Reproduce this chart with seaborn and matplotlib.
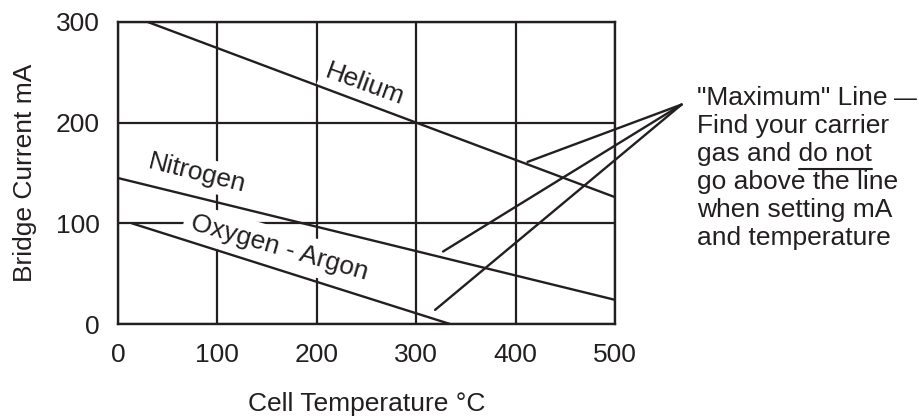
import numpy as np
import pandas as pd
import matplotlib
matplotlib.use("Agg")
import matplotlib.pyplot as plt
from matplotlib.lines import Line2D
import seaborn as sns

# -------------------------------
# Data (line end points)
# -------------------------------
helium_x = [30, 500]
helium_y = [300, 126]
nitrogen_x = [0, 500]
nitrogen_y = [145, 24]
oxygen_x = [14, 334]
oxygen_y = [100, 0]

# pointer lines: shared apex and the three tips
apex_x, apex_y = 567, 218
tip_x = [412, 327, 319]
tip_y = [161, 72, 14]

x_ticks = [0, 100, 200, 300, 400, 500]
y_ticks = [0, 100, 200, 300]

note_lines = ['"Maximum" Line', 'Find your carrier', 'gas and do not',
              'go above the line', 'when setting mA', 'and temperature']

ink = "#231f20"
fs = 19

sns.set_style("white")
plt.rcParams['font.family'] = ['Liberation Sans', 'DejaVu Sans']
plt.rcParams['text.color'] = ink

W, H = 919, 416
fig = plt.figure(figsize=(W / 100, H / 100), dpi=100)
ax = fig.add_axes([118 / W, 1 - 324 / H, (615 - 118) / W, (324 - 22) / H])

# gas lines
gases = pd.DataFrame({
    "x": helium_x + nitrogen_x + oxygen_x,
    "y": helium_y + nitrogen_y + oxygen_y,
    "gas": ["Helium"] * 2 + ["Nitrogen"] * 2 + ["Oxygen - Argon"] * 2,
})
for g, sub in gases.groupby("gas"):
    sns.lineplot(data=sub, x="x", y="y", ax=ax, color=ink, lw=1.7, zorder=4)

# pointer lines from the note
for tx, ty in zip(tip_x, tip_y):
    ax.plot([apex_x, tx], [apex_y, ty], color=ink, lw=1.7, clip_on=False, zorder=4)

ax.set_xlim(0, 500)
ax.set_ylim(0, 300)
ax.set_xticks(x_ticks)
ax.set_yticks(y_ticks)
ax.set_xticklabels([str(v) for v in x_ticks], fontsize=fs)
ax.set_yticklabels([str(v) for v in y_ticks], fontsize=fs)
ax.tick_params(axis="both", direction="out", length=3.6, width=1.5, color=ink, labelcolor=ink)
ax.tick_params(axis="x", pad=10)
ax.tick_params(axis="y", pad=9.4)
for t in [ax.xaxis.get_major_ticks()[0], ax.xaxis.get_major_ticks()[-1],
          ax.yaxis.get_major_ticks()[0], ax.yaxis.get_major_ticks()[-1]]:
    t.tick1line.set_visible(False)

ax.grid(True, color=ink, lw=1.6, zorder=1)
ax.set_axisbelow(True)
for s in ax.spines.values():
    s.set_color(ink)
    s.set_linewidth(1.7)
    s.set_zorder(5)

ax.set_xlabel("Cell Temperature \u00b0C", fontsize=fs, color=ink)
ax.set_ylabel("Bridge Current mA", fontsize=fs, color=ink)
ax.xaxis.set_label_coords(0.5, -0.225)
ax.yaxis.set_label_coords(-0.162, 0.5)

# labels on the lines
box = dict(facecolor="white", edgecolor="none", pad=3)
ax.text(248, 238, "Helium", fontsize=fs, rotation=-20, ha="center", va="center",
        rotation_mode="anchor", bbox=box, zorder=3)
ax.text(80, 150, "Nitrogen", fontsize=fs, rotation=-14, ha="center", va="center",
        rotation_mode="anchor", bbox=box, zorder=3)
ax.text(162, 76, "Oxygen - Argon", fontsize=fs, rotation=-16, ha="center", va="center",
        rotation_mode="anchor", bbox=dict(facecolor="white", edgecolor="none", pad=5), zorder=3)

# note on the right
texts = []
for i, line in enumerate(note_lines):
    base = 105 + 28 * i
    texts.append(fig.text(697 / W, 1 - base / H, line, fontsize=fs, ha="left", va="baseline"))

fig.canvas.draw()
r = fig.canvas.get_renderer()

# dash after the first line, a little narrower so it fits
bb0 = texts[0].get_window_extent(r)
fig.text((bb0.x1 + 7) / W, 1 - 105 / H, "\u2014", fontsize=16.5, ha="left", va="baseline")

# underline "do not"
bb = texts[2].get_window_extent(r)
tmp = fig.text(0, 0, "do not", fontsize=fs)
w = tmp.get_window_extent(r).width
tmp.remove()
uy = (H - 169) / H
fig.add_artist(Line2D([(bb.x1 - w) / W, bb.x1 / W], [uy, uy], transform=fig.transFigure,
                      color=ink, lw=1.5))

fig.savefig("out.png", dpi=100)
